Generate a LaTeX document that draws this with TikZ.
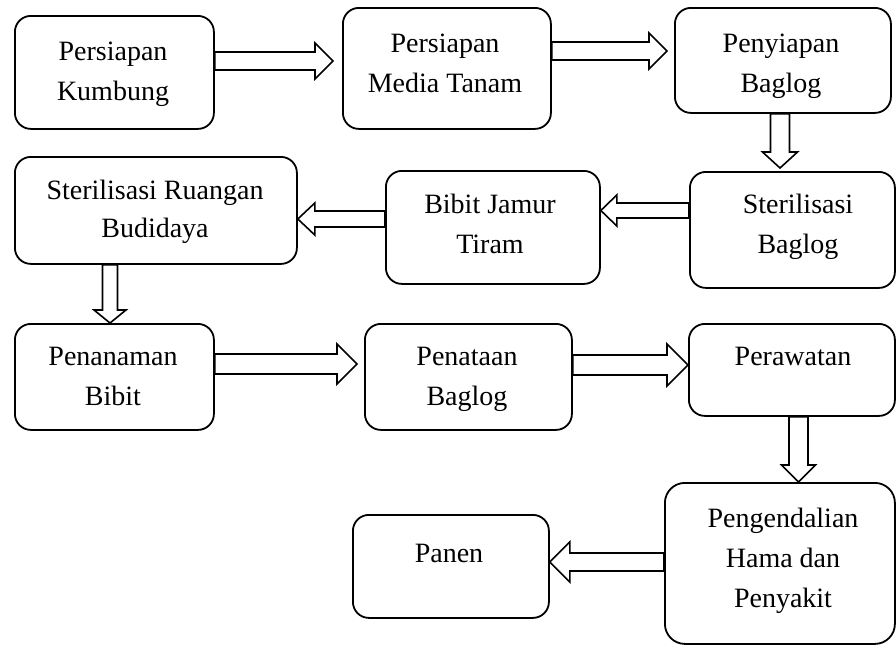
\documentclass[tikz,border=0pt]{standalone}
\usepackage{fontspec}
\setmainfont{Liberation Serif}
\usetikzlibrary{calc}
% right block arrow: from, to, y-center, shaft half, head half, head length, gap
\newcommand\rarrow[7]{\draw[blk] let \p1=(#1.east), \p2=(#2.west) in
  (\x1,{#4pt-#3pt}) -- ({\x2-#7pt-#6pt},{#4pt-#3pt}) -- ({\x2-#7pt-#6pt},{#5pt-#3pt})
  -- ({\x2-#7pt},{-#3pt}) -- ({\x2-#7pt-#6pt},{-#5pt-#3pt}) -- ({\x2-#7pt-#6pt},{-#4pt-#3pt})
  -- (\x1,{-#4pt-#3pt}) -- cycle;}
\newcommand\larrow[7]{\draw[blk] let \p1=(#1.west), \p2=(#2.east) in
  (\x1,{#4pt-#3pt}) -- ({\x2+#7pt+#6pt},{#4pt-#3pt}) -- ({\x2+#7pt+#6pt},{#5pt-#3pt})
  -- ({\x2+#7pt},{-#3pt}) -- ({\x2+#7pt+#6pt},{-#5pt-#3pt}) -- ({\x2+#7pt+#6pt},{-#4pt-#3pt})
  -- (\x1,{-#4pt-#3pt}) -- cycle;}
\newcommand\darrow[7]{\draw[blk] let \p1=(#1.south), \p2=(#2.north) in
  ({#3pt-#4pt},\y1) -- ({#3pt-#4pt},{\y2+#7pt+#6pt}) -- ({#3pt-#5pt},{\y2+#7pt+#6pt})
  -- ({#3pt},{\y2+#7pt}) -- ({#3pt+#5pt},{\y2+#7pt+#6pt}) -- ({#3pt+#4pt},{\y2+#7pt+#6pt})
  -- ({#3pt+#4pt},\y1) -- cycle;}
\begin{document}
\begin{tikzpicture}[x=1pt,y=-1pt,
  box/.style={draw, line width=1.8pt, rounded corners=16pt, inner sep=0pt, anchor=north west},
  blk/.style={draw, fill=white, line width=1.6pt, line join=miter},
  txt/.style={font=\fontsize{28}{40}\selectfont, align=center, inner sep=0pt, anchor=north}]
\useasboundingbox (0,0) rectangle (896,646);
% boxes
\node[box, minimum width=199pt, minimum height=113pt] (b1) at (14,15) {};
\node[box, minimum width=208pt, minimum height=121pt] (b2) at (342,7) {};
\node[box, minimum width=216pt, minimum height=105pt] (b3) at (674,7) {};
\node[box, minimum width=205pt, minimum height=116pt] (b4) at (689,171) {};
\node[box, minimum width=214pt, minimum height=113pt] (b5) at (385,170) {};
\node[box, minimum width=282pt, minimum height=107pt] (b6) at (14,156) {};
\node[box, minimum width=199pt, minimum height=106pt] (b7) at (14,323) {};
\node[box, minimum width=207pt, minimum height=106pt] (b8) at (364,323) {};
\node[box, minimum width=206pt, minimum height=92pt] (b9) at (688,323) {};
\node[box, minimum width=230pt, minimum height=161pt, rounded corners=20pt] (b10) at (664,482) {};
\node[box, minimum width=196pt, minimum height=103pt] (b11) at (352,514) {};
% texts
\node[txt] (t1) at (113,32) {\strut Persiapan\\\strut Kumbung};
\node[txt] (t2) at (445,24) {\strut Persiapan\\\strut Media Tanam};
\node[txt] (t3) at (781,24) {\strut Penyiapan\\\strut Baglog};
\node[txt] (t4) at (798,185) {\strut Sterilisasi\\\strut Baglog};
\node[txt] (t5) at (490,185) {\strut Bibit Jamur\\\strut Tiram};
\node[txt, font=\fontsize{28}{38}\selectfont] (t6) at (155,172.4) {\strut Sterilisasi Ruangan\\\strut Budidaya};
\node[txt] (t7) at (113,337) {\strut Penanaman\\\strut Bibit};
\node[txt] (t8) at (467,337) {\strut Penataan\\\strut Baglog};
\node[txt] (t9) at (793,337) {\strut Perawatan};
\node[txt] (t10) at (783,499) {\strut Pengendalian\\\strut Hama dan\\\strut Penyakit};
\node[txt] (t11) at (449,534) {\strut Panen};
% block arrows
\rarrow{b1}{b2}{61}{9}{18}{18}{9}
\rarrow{b2}{b3}{51}{9}{18}{18}{7}
\darrow{b3}{b4}{780}{9.5}{17.5}{16}{3}
\larrow{b4}{b5}{210.5}{7.5}{15.5}{16}{0}
\larrow{b5}{b6}{219}{8}{16}{17}{0}
\darrow{b6}{b7}{110}{7.5}{16}{13}{0}
\rarrow{b7}{b8}{364}{10}{20}{20}{7}
\rarrow{b8}{b9}{365}{10}{21}{21}{0}
\darrow{b9}{b10}{798.5}{9.5}{17}{17}{0}
\larrow{b10}{b11}{562}{9}{20}{20}{0}
\end{tikzpicture}
\end{document}
